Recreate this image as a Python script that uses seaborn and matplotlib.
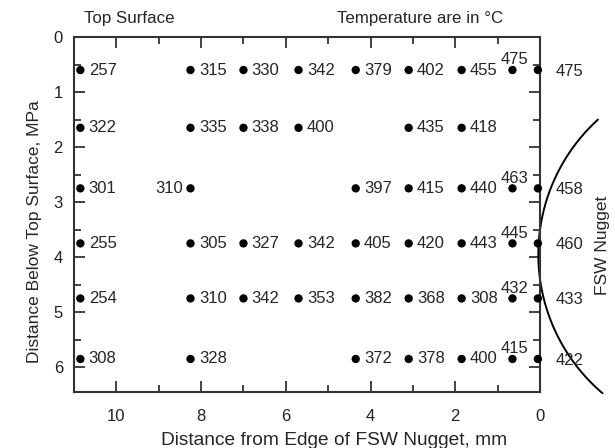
import numpy as np
import pandas as pd
import matplotlib
matplotlib.use('Agg')
import matplotlib.pyplot as plt
from matplotlib.ticker import MultipleLocator
import seaborn as sns

# 측정 위치 (깊이, mm) 와 너겟 경계로부터의 거리 (mm)
depths = [0.6, 1.65, 2.75, 3.75, 4.75, 5.85]
distances = [10.85, 8.25, 7.0, 5.7, 4.35, 3.1, 1.85, 0.65, 0.05]

# 온도 (°C), None = 측정 없음
temps_row1 = [257, 315, 330, 342, 379, 402, 455, 475, 475]
temps_row2 = [322, 335, 338, 400, None, 435, 418, None, None]
temps_row3 = [301, 310, None, None, 397, 415, 440, 463, 458]
temps_row4 = [255, 305, 327, 342, 405, 420, 443, 445, 460]
temps_row5 = [254, 310, 342, 353, 382, 368, 308, 432, 433]
temps_row6 = [308, 328, None, None, 372, 378, 400, 415, 422]
temp_rows = [temps_row1, temps_row2, temps_row3, temps_row4, temps_row5, temps_row6]

# 너겟 경계 (타원 호)
nugget_center = (-4.26, 3.95)
nugget_radius = (4.3, 3.31)

records = []
for i, row in enumerate(temp_rows):
    for j, t in enumerate(row):
        if t is not None:
            records.append({'row': i, 'col': j, 'x': distances[j], 'y': depths[i], 'temp': t})
df = pd.DataFrame(records)

sns.set_style('ticks')
plt.rcParams['font.family'] = ['Liberation Sans', 'DejaVu Sans']

fig = plt.figure(figsize=(6.15, 4.48), dpi=100)
ax = fig.add_axes([74 / 615, 1 - 392 / 448, 466 / 615, 355 / 448])

sns.scatterplot(data=df, x='x', y='y', color='black', s=36, edgecolor='none',
                clip_on=False, zorder=5, ax=ax, legend=False)

last_col = len(distances) - 1
for _, r in df.iterrows():
    if r['col'] == last_col:
        off, ha, va = (13, -1), 'left', 'center'
    elif r['col'] == last_col - 1:
        off, ha, va = (1.5, 2), 'center', 'bottom'
    elif r['row'] == 2 and r['col'] == 1:
        off, ha, va = (-5, 0), 'right', 'center'
    else:
        off, ha, va = (6, 0), 'left', 'center'
    ax.annotate(str(int(r['temp'])), (r['x'], r['y']), xytext=off,
                textcoords='offset points', ha=ha, va=va, fontsize=12,
                annotation_clip=False)

# 너겟 경계 곡선
t = np.linspace(-0.833, 0.866, 200)
cx = nugget_center[0] + nugget_radius[0] * np.cos(t)
cy = nugget_center[1] + nugget_radius[1] * np.sin(t)
ax.plot(cx, cy, color='black', lw=1.4, clip_on=False)

ax.set_xlim(11, 0)
ax.set_ylim(6.45, 0)
ax.xaxis.set_major_locator(MultipleLocator(2))
ax.xaxis.set_minor_locator(MultipleLocator(1))
ax.yaxis.set_major_locator(MultipleLocator(1))
ax.yaxis.set_minor_locator(MultipleLocator(0.5))
ax.tick_params(which='both', direction='in', top=True, right=True, width=1.2,
               labelsize=12, colors='#222222')
ax.tick_params(which='major', length=8)
ax.tick_params(which='minor', length=5)
ax.tick_params(axis='x', pad=12)
ax.tick_params(axis='y', pad=8)
for sp in ax.spines.values():
    sp.set_linewidth(1.5)
    sp.set_color('#333333')

ax.set_xlabel('Distance from Edge of FSW Nugget, mm', fontsize=13.8)
ax.set_ylabel('Distance Below Top Surface, MPa', fontsize=12.5)
ax.xaxis.set_label_coords((334 - 74) / 466, -(440 - 392) / 355)
ax.yaxis.set_label_coords(-(74 - 35) / 466, 1 - (232 - 37) / 355)
ax.xaxis.label.set_va('center')
ax.yaxis.label.set_va('center')

fig.text(84 / 615, 1 - 18 / 448, 'Top Surface', fontsize=12.2, ha='left', va='center')
fig.text(337 / 615, 1 - 18 / 448, 'Temperature are in °C', fontsize=12.2, ha='left', va='center')
fig.text(602 / 615, 1 - 245 / 448, 'FSW Nugget', fontsize=12.5, rotation=90,
         ha='center', va='center')

fig.savefig('out.png', dpi=100)
